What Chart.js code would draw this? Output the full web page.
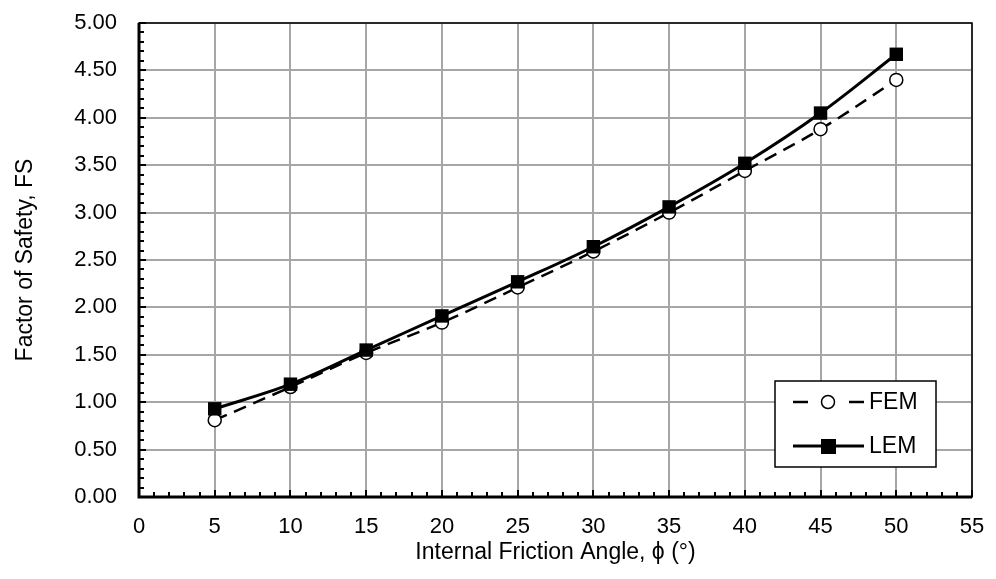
<!DOCTYPE html>
<html>
<head>
<meta charset="utf-8">
<script src="https://cdn.jsdelivr.net/npm/chart.js@4.4.1/dist/chart.umd.min.js"></script>
<style>
  html, body { margin: 0; padding: 0; background: #fff; }
  #wrap { width: 996px; height: 579px; }
</style>
</head>
<body>
<div id="wrap"><canvas id="fsChart" width="996" height="579"></canvas></div>
<script>
// friction angle (deg)
const angles = [5, 10, 15, 20, 25, 30, 35, 40, 45, 50];
const femFS = [0.81, 1.16, 1.52, 1.84, 2.21, 2.59, 3.00, 3.44, 3.88, 4.40];
const lemFS = [0.93, 1.19, 1.55, 1.91, 2.27, 2.64, 3.06, 3.52, 4.05, 4.67];
const seriesNames = ["FEM", "LEM"];

const FONT = '"Liberation Sans", Arial, sans-serif';
const toPts = (ys) => angles.map((a, i) => ({ x: a, y: ys[i] }));

// minor tick marks (inside) + box border + legend inside plot
const extras = {
  id: 'extras',
  afterDraw(chart) {
    const c = chart.ctx, a = chart.chartArea;
    const xs = chart.scales.x, ys = chart.scales.y;
    c.save();
    c.strokeStyle = '#000';
    c.lineWidth = 2;
    // x ticks
    for (let v = 0; v <= 55; v++) {
      const px = Math.round(xs.getPixelForValue(v));
      const len = v % 5 === 0 ? 7 : 5;
      c.beginPath(); c.moveTo(px, a.bottom); c.lineTo(px, a.bottom - len); c.stroke();
    }
    // y ticks
    for (let k = 0; k <= 50; k++) {
      const py = Math.round(ys.getPixelForValue(k / 10));
      const len = k % 5 === 0 ? 7 : 5;
      c.beginPath(); c.moveTo(a.left, py); c.lineTo(a.left + len, py); c.stroke();
    }
    // border
    c.lineWidth = 1.5;
    c.strokeRect(a.left, a.top, a.right - a.left, a.bottom - a.top);
    c.lineWidth = 3;
    c.beginPath(); c.moveTo(a.left, a.top); c.lineTo(a.left, a.bottom); c.lineTo(a.right, a.bottom); c.stroke();

    // legend box
    const bx = 775, by = 381, bw = 161, bh = 86;
    c.fillStyle = '#fff';
    c.fillRect(bx, by, bw, bh);
    c.lineWidth = 1.5;
    c.strokeRect(bx, by, bw, bh);
    const rows = [402, 446];
    chart.data.datasets.forEach((ds, i) => {
      const y = rows[i];
      c.strokeStyle = '#000';
      c.lineWidth = ds.borderWidth;
      if (ds.borderDash) {
        c.beginPath(); c.moveTo(793, y); c.lineTo(808, y); c.stroke();
        c.beginPath(); c.moveTo(849, y); c.lineTo(864, y); c.stroke();
        c.fillStyle = '#fff';
        c.beginPath(); c.arc(828, y, 6.5, 0, Math.PI * 2); c.fill();
        c.lineWidth = 1.5; c.stroke();
      } else {
        c.beginPath(); c.moveTo(793, y); c.lineTo(864, y); c.stroke();
        c.fillStyle = '#000';
        c.fillRect(821, y - 7, 15, 15);
      }
      c.fillStyle = '#000';
      c.font = '23px ' + FONT;
      c.textBaseline = 'middle';
      c.fillText(ds.label, 869, y + 1);
    });
    c.restore();
  }
};

new Chart(document.getElementById('fsChart'), {
  type: 'scatter',
  data: {
    datasets: [
      {
        label: seriesNames[0],
        data: toPts(femFS),
        showLine: true,
        tension: 0.35,
        borderColor: '#000',
        borderWidth: 2.5,
        borderDash: [13, 8],
        pointStyle: 'circle',
        pointRadius: 6.5,
        pointBackgroundColor: '#fff',
        pointBorderColor: '#000',
        pointBorderWidth: 1.5,
        order: 2
      },
      {
        label: seriesNames[1],
        data: toPts(lemFS),
        showLine: true,
        tension: 0.35,
        borderColor: '#000',
        borderWidth: 3,
        pointStyle: 'rect',
        pointRadius: 9.5,
        pointBackgroundColor: '#000',
        pointBorderColor: '#000',
        pointBorderWidth: 0,
        order: 1
      }
    ]
  },
  options: {
    responsive: false,
    animation: false,
    events: [],
    layout: { padding: { top: 23, right: 24, left: 0, bottom: 0 } },
    plugins: { legend: { display: false }, tooltip: { enabled: false } },
    scales: {
      x: {
        type: 'linear',
        min: 0, max: 55,
        ticks: { stepSize: 5, color: '#000', padding: 17, font: { size: 22, family: FONT } },
        grid: { color: '#a6a6a6', lineWidth: 2, drawTicks: false },
        border: { display: false },
        title: { display: true, text: 'Internal Friction Angle, \u03d5 (\u00b0)', color: '#000',
                 padding: { top: 4, bottom: 13 }, font: { size: 23, family: FONT } },
        afterFit(s) { s.height = 82; s.paddingLeft = 0; s.paddingRight = 0; }
      },
      y: {
        min: 0, max: 5,
        ticks: { stepSize: 0.5, color: '#000', padding: 22, callback: (v) => v.toFixed(2),
                 font: { size: 22, family: FONT } },
        grid: { color: '#a6a6a6', lineWidth: 2, drawTicks: false },
        border: { display: false },
        title: { display: true, text: 'Factor of Safety, FS', color: '#000', padding: { top: 12 },
                 font: { size: 23, family: FONT } },
        afterFit(s) { s.width = 139; s.paddingTop = 0; s.paddingBottom = 0; }
      }
    }
  },
  plugins: [extras]
});
</script>
</body>
</html>
